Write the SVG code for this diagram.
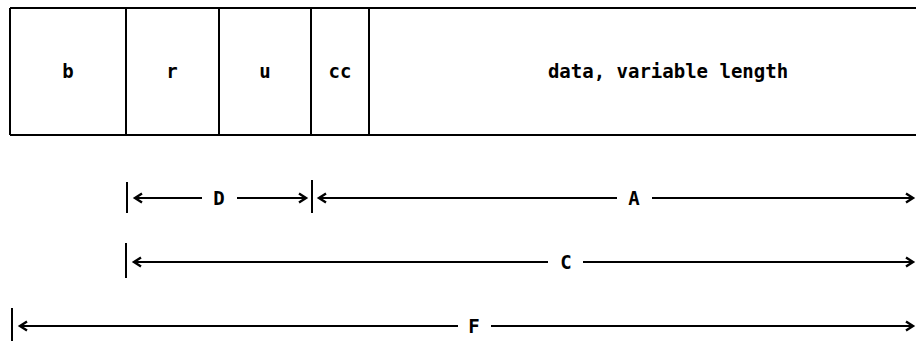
<svg xmlns="http://www.w3.org/2000/svg" width="916" height="341" viewBox="0 0 916 341">
<style>
.ln{stroke:#000;stroke-width:2;fill:none}
.bar{stroke:#000;stroke-width:2}
.chev{stroke:#000;stroke-width:2.4;fill:none;stroke-linejoin:miter}
text{font-family:"DejaVu Sans Mono","Liberation Mono",monospace;font-weight:bold;font-size:19px;fill:#000;text-anchor:middle}
</style>
<rect width="916" height="341" fill="#fff"/>
<g id="record">
  <path class="ln" d="M10,8 H916 M10,135 H916 M10,8 V135"/>
</g>
<g id="b"><text x="68" y="78">b</text></g>
<g id="r"><line class="bar" x1="126" y1="8" x2="126" y2="135"/><text x="172" y="78">r</text></g>
<g id="u"><line class="bar" x1="219" y1="8" x2="219" y2="135"/><text x="265" y="78">u</text></g>
<g id="cc"><line class="bar" x1="311" y1="8" x2="311" y2="135"/><text x="340" y="78">cc</text></g>
<g id="data"><line class="bar" x1="369" y1="8" x2="369" y2="135"/><text x="668" y="78">data, variable length</text></g>
<g id="connectors">
  <!-- D -->
  <line class="bar" x1="127" y1="182" x2="127" y2="213"/>
  <polyline class="chev" points="142,193.5 135,198 142,202.5"/>
  <line class="ln" x1="136" y1="198" x2="202" y2="198"/>
  <line class="ln" x1="237" y1="198" x2="305" y2="198"/>
  <polyline class="chev" points="299,193.5 306,198 299,202.5"/>
  <!-- A -->
  <line class="bar" x1="312" y1="180" x2="312" y2="213"/>
  <polyline class="chev" points="326,193.5 319,198 326,202.5"/>
  <line class="ln" x1="320" y1="198" x2="617" y2="198"/>
  <line class="ln" x1="652" y1="198" x2="913" y2="198"/>
  <polyline class="chev" points="906,193.5 913,198 906,202.5"/>
  <!-- C -->
  <line class="bar" x1="126" y1="243" x2="126" y2="278"/>
  <polyline class="chev" points="141,257.5 134,262 141,266.5"/>
  <line class="ln" x1="135" y1="262" x2="548" y2="262"/>
  <line class="ln" x1="583" y1="262" x2="913" y2="262"/>
  <polyline class="chev" points="906,257.5 913,262 906,266.5"/>
  <!-- F -->
  <line class="bar" x1="12" y1="308" x2="12" y2="341"/>
  <polyline class="chev" points="27,321.5 20,326 27,330.5"/>
  <line class="ln" x1="21" y1="326" x2="458" y2="326"/>
  <line class="ln" x1="491" y1="326" x2="913" y2="326"/>
  <polyline class="chev" points="906,321.5 913,326 906,330.5"/>
</g>
<g id="labels">
  <text x="219" y="205">D</text>
  <text x="634" y="205">A</text>
  <text x="566" y="269">C</text>
  <text x="474" y="333">F</text>
</g>
</svg>
